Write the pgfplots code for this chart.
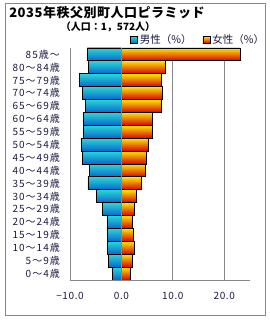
\documentclass[border=0pt]{standalone}
\usepackage{fontspec}
\setmainfont{Noto Sans CJK JP}
\usepackage{pgfplots}
\pgfplotsset{compat=1.18}
\definecolor{txt}{HTML}{1A1A40}
\definecolor{gridc}{HTML}{888888}
\definecolor{mtop}{HTML}{2AD6D8}
\definecolor{mbot}{HTML}{0A66CC}
\definecolor{ftop}{HTML}{FFE600}
\definecolor{fmid}{HTML}{FF8A00}
\definecolor{fbot}{HTML}{D80000}
\pgfplotsset{
  mstyle/.style={draw=black, line width=0.9bp, top color=mtop, bottom color=mbot},
  fstyle/.style={draw=black, line width=0.9bp, top color=ftop, middle color=fmid, bottom color=fbot},
}
\begin{document}
\begin{tikzpicture}
\path[use as bounding box] (0bp,0bp) rectangle (270bp,320bp);
\draw[gridc, line width=1bp] (5bp,4.5bp) rectangle (265bp,316bp);
\node[font=\fontsize{13bp}{15bp}\selectfont\bfseries\addfontfeature{LetterSpace=4}, text=black, inner sep=0] at (107bp,307bp) {2035年秩父別町人口ピラミッド};
\node[font=\fontsize{10bp}{12bp}\selectfont\bfseries, text=black, inner sep=0] at (108bp,293bp) {（人口：1，572人）};
\begin{axis}[
  at={(70bp,40bp)}, anchor=south west,
  scale only axis, width=180bp, height=232bp,
  xmin=-10, xmax=25, ymin=-0.5, ymax=17.5,
  axis x line*=bottom, axis y line*=left,
  axis line style={gridc, line width=1bp, -},
  xtick={-10,0,10,20},
  xticklabels={−10.0,0.0,10.0,20.0},
  ytick={0,...,17},
  yticklabels={0～4歳,5～9歳,10～14歳,15～19歳,20～24歳,25～29歳,30～34歳,35～39歳,40～44歳,45～49歳,50～54歳,55～59歳,60～64歳,65～69歳,70～74歳,75～79歳,80～84歳,85歳～},
  major tick length=0pt,
  tick style={draw=none},
  xmajorgrids, grid style={gridc, line width=1bp},
  xticklabel style={font=\fontsize{10bp}{12bp}\selectfont\addfontfeature{LetterSpace=6}, text=txt, inner sep=0, anchor=center, yshift=-16bp},
  yticklabel style={font=\fontsize{10bp}{12bp}\selectfont\addfontfeature{LetterSpace=10}, text=txt, inner sep=0, anchor=east, xshift=-10bp},
  xbar, bar width=12.9bp, bar shift=0pt,
  legend columns=2,
  legend style={at={(1.09,1.035)}, anchor=east, draw=none, fill=none,
    font=\fontsize{10.5bp}{12bp}\selectfont, text=txt, inner sep=0pt,
    /tikz/every even column/.append style={column sep=9bp}},
  legend image code/.code={\draw[#1, line width=0.7bp] (0bp,-3.5bp) rectangle (7bp,3.5bp);},
]
% male (percent of males, plotted negative)
\addplot[mstyle, forget plot] coordinates {(-1.75,0)};
\addplot[mstyle, forget plot] coordinates {(-2.5,1)};
\addplot[mstyle, forget plot] coordinates {(-2.7,2)};
\addplot[mstyle, forget plot] coordinates {(-2.7,3)};
\addplot[mstyle, forget plot] coordinates {(-2.7,4)};
\addplot[mstyle, forget plot] coordinates {(-3.7,5)};
\addplot[mstyle, forget plot] coordinates {(-4.9,6)};
\addplot[mstyle, forget plot] coordinates {(-6.5,7)};
\addplot[mstyle, forget plot] coordinates {(-6.3,8)};
\addplot[mstyle, forget plot] coordinates {(-7.5,9)};
\addplot[mstyle, forget plot] coordinates {(-7.7,10)};
\addplot[mstyle, forget plot] coordinates {(-7.3,11)};
\addplot[mstyle, forget plot] coordinates {(-7.4,12)};
\addplot[mstyle, forget plot] coordinates {(-7.0,13)};
\addplot[mstyle, forget plot] coordinates {(-7.5,14)};
\addplot[mstyle, forget plot] coordinates {(-8.1,15)};
\addplot[mstyle, forget plot] coordinates {(-6.4,16)};
\addplot[mstyle, forget plot] coordinates {(-6.6,17)};
% female
\addplot[fstyle, forget plot] coordinates {(1.75,0)};
\addplot[fstyle, forget plot] coordinates {(2.1,1)};
\addplot[fstyle, forget plot] coordinates {(2.5,2)};
\addplot[fstyle, forget plot] coordinates {(2.3,3)};
\addplot[fstyle, forget plot] coordinates {(2.1,4)};
\addplot[fstyle, forget plot] coordinates {(2.5,5)};
\addplot[fstyle, forget plot] coordinates {(2.85,6)};
\addplot[fstyle, forget plot] coordinates {(3.8,7)};
\addplot[fstyle, forget plot] coordinates {(4.6,8)};
\addplot[fstyle, forget plot] coordinates {(4.8,9)};
\addplot[fstyle, forget plot] coordinates {(5.2,10)};
\addplot[fstyle, forget plot] coordinates {(6.0,11)};
\addplot[fstyle, forget plot] coordinates {(6.0,12)};
\addplot[fstyle, forget plot] coordinates {(7.7,13)};
\addplot[fstyle, forget plot] coordinates {(7.9,14)};
\addplot[fstyle, forget plot] coordinates {(7.7,15)};
\addplot[fstyle, forget plot] coordinates {(8.5,16)};
\addplot[fstyle, forget plot] coordinates {(23.1,17)};
\addlegendimage{mstyle}\addlegendentry{男性（\%）}
\addlegendimage{fstyle}\addlegendentry{女性（\%）}
\draw[gridc, line width=1bp] (axis cs:0,-0.5) -- (axis cs:0,17.5);
\end{axis}
\end{tikzpicture}
\end{document}
